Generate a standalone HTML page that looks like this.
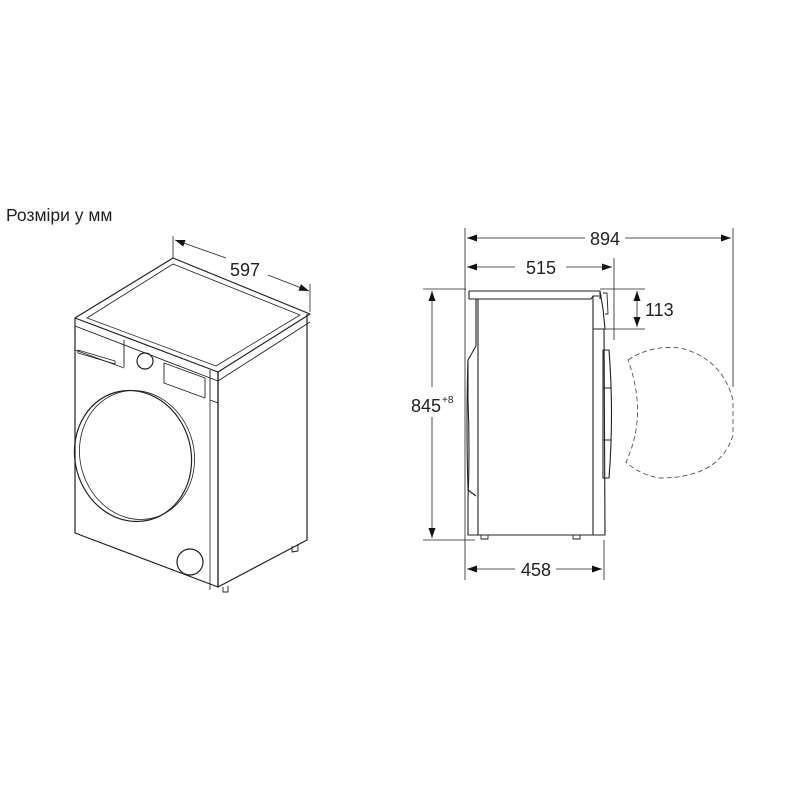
<!DOCTYPE html>
<html><head><meta charset="utf-8"><style>
html,body{margin:0;padding:0;background:#fff;}
svg{display:block;}
text{font-family:"Liberation Sans",sans-serif;fill:#222;}
</style></head><body>
<svg width="800" height="800" viewBox="0 0 800 800" xmlns="http://www.w3.org/2000/svg">
<defs>
<marker id="a" viewBox="0 0 10 10" refX="10" refY="5" markerWidth="10" markerHeight="10" orient="auto-start-reverse" markerUnits="userSpaceOnUse"><path d="M0,1.5 L10,5 L0,8.5 Z" fill="#111"/></marker>
</defs>
<text x="6" y="221" font-size="17.5">Розміри у мм</text>

<!-- isometric -->
<g fill="none" stroke="#222" stroke-width="1.2" stroke-linejoin="round">
<line x1="173" y1="236" x2="173" y2="258" stroke-width="0.8"/>
<line x1="310" y1="284" x2="310" y2="312" stroke-width="0.8"/>
<line x1="175" y1="240" x2="226" y2="258" stroke-width="0.8" marker-start="url(#a)"/>
<line x1="268" y1="275" x2="309" y2="291" stroke-width="0.8" marker-end="url(#a)"/>
<path d="M75,318 L173,258 L310,314 L218,372 Z"/>
<path d="M87,318 L173,264 L300,315 L216,366 Z" stroke-width="0.8"/>
<path d="M75,318 L75,533 L218,587 L218,372"/>
<path d="M218,372 L218,587 L307,540 L307,314"/>
<path d="M75,326 L218,381 L310,322" stroke-width="0.9"/>
<path d="M75,350 L124,368 M124,340 L124,367 M218,403 L210,400 L210,370" stroke-width="0.9"/>
<path d="M78,350 L115,361 L115,364 L78,353 Z" stroke-width="0.8"/>
<path d="M164,363 L205,378 L205,398 L164,383 Z" stroke-width="0.9"/>
<circle cx="145" cy="361" r="8"/>
<path d="M210,400 L210,590" stroke-width="0.8"/>
<ellipse cx="133" cy="456" rx="58" ry="66" transform="rotate(-15 133 456)"/>
<ellipse cx="137" cy="455" rx="57" ry="65" transform="rotate(-15 137 455)" stroke-width="0.8"/>
<circle cx="190" cy="562" r="13"/>
<path d="M292,546 L292,552 L298,551 L298,544 M223,587 L223,592 L228,592 L228,586" stroke-width="0.9"/>
</g>
<text x="230" y="276" font-size="18">597</text>

<!-- side view -->
<g fill="none" stroke="#222" stroke-width="0.8">
<line x1="465" y1="228" x2="465" y2="580"/>
<line x1="733" y1="228" x2="733" y2="387"/>
<line x1="614" y1="258" x2="614" y2="340"/>
<line x1="604" y1="540" x2="604" y2="580"/>
<line x1="423" y1="289" x2="466" y2="289"/>
<line x1="423" y1="540" x2="475" y2="540"/>
<line x1="600" y1="289" x2="645" y2="289"/>
<line x1="605" y1="329" x2="645" y2="329"/>
<line x1="467" y1="238" x2="585" y2="238" marker-start="url(#a)"/>
<line x1="625" y1="238" x2="731" y2="238" marker-end="url(#a)"/>
<line x1="467" y1="267" x2="515" y2="267" marker-start="url(#a)"/>
<line x1="566" y1="267" x2="612" y2="267" marker-end="url(#a)"/>
<line x1="432" y1="291" x2="432" y2="387" marker-start="url(#a)"/>
<line x1="432" y1="417" x2="432" y2="538" marker-end="url(#a)"/>
<line x1="637" y1="291" x2="637" y2="327" marker-start="url(#a)" marker-end="url(#a)"/>
<line x1="467" y1="569" x2="515" y2="569" marker-start="url(#a)"/>
<line x1="556" y1="569" x2="602" y2="569" marker-end="url(#a)"/>
</g>
<g fill="none" stroke="#222" stroke-width="1.1" stroke-linejoin="round">
<path d="M469,291 L469,299 L591,299 L593,296 L593,535 L468,535 L468,500 Q470,450 468,400 L468,360 L476,346 L476,299"/>
<path d="M469,291 L600,291 L600,299"/>
<path d="M478,299 L478,535"/>
<path d="M468,360 Q466,420 468,490 L476,496"/>
<path d="M600,291 L603,309 L605,329 L593,329 M593,296 L599,296"/>
<path d="M603,293 L607,293 L608,314 L605,314" stroke-width="0.9"/>
<path d="M593,329 L604,329 L605,535 L593,535"/>
<path d="M603,350 L609,350 Q614,414 609,478 L603,478 Z"/>
<path d="M603,388 L611,388 M603,440 L611,440" stroke-width="0.9"/>
<path d="M481,535 L481,539 L488,539 L488,535 M573,535 L573,539 L580,539 L580,535" stroke-width="0.9"/>
</g>
<path d="M628,360 Q650,345 680,348 Q722,358 733,400 L733,435 Q720,478 660,478 Q640,475 626,462 Q648,415 628,360 Z" fill="none" stroke="#555" stroke-width="0.9" stroke-dasharray="5,3"/>
<text x="605" y="245" font-size="18" text-anchor="middle">894</text>
<text x="541" y="274" font-size="18" text-anchor="middle">515</text>
<text x="645" y="316" font-size="18">113</text>
<text x="536" y="576" font-size="18" text-anchor="middle">458</text>
<text x="411" y="412" font-size="18">845</text>
<text x="442" y="403" font-size="10">+8</text>
</svg>
</body></html>
